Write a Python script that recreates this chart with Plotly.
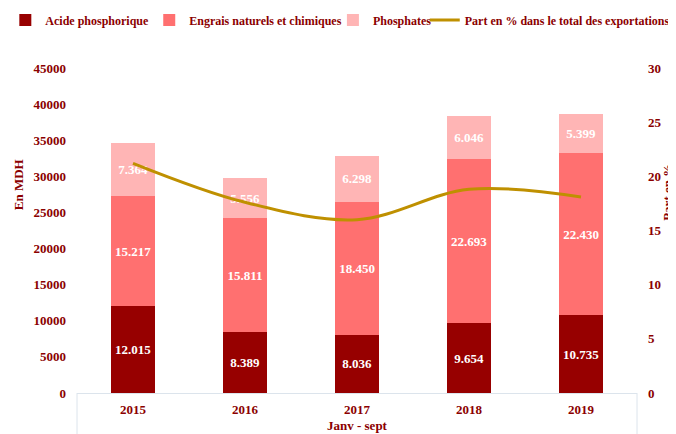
import plotly.graph_objects as go

years = ["2015", "2016", "2017", "2018", "2019"]
acide = [12015, 8389, 8036, 9654, 10735]
engrais = [15217, 15811, 18450, 22693, 22430]
phosphates = [7364, 5556, 6298, 6046, 5399]
part_pct = [21.2, 17.6, 16.0, 18.8, 18.1]

def fmt(vals):
    return [f"{v:,}".replace(",", ".") for v in vals]

FONT = "Liberation Serif"
RED = "#8B0000"
TICKF = dict(size=13, color=RED, family=FONT, weight="bold")
LEGF = dict(size=12, color=RED, family=FONT, weight="bold")

fig = go.Figure()
for i, (name, vals, col) in enumerate([("Acide phosphorique", acide, "#970000"),
                                       ("Engrais naturels et chimiques", engrais, "#FF7070"),
                                       ("Phosphates", phosphates, "#FFB5B5")]):
    fig.add_trace(go.Bar(x=years, y=vals, name=name, marker=dict(color=col, line=dict(width=0)),
                         text=fmt(vals), textposition="inside", insidetextanchor="middle",
                         textfont=dict(color="white", size=13, family=FONT, weight="bold"),
                         hoverinfo="skip", showlegend=True,
                         legend="legend" if i == 0 else f"legend{i+1}"))
fig.add_trace(go.Scatter(x=years, y=part_pct, name="Part en % dans le total des exportations",
                         mode="lines", line=dict(color="#BF9000", width=3, shape="spline"),
                         yaxis="y2", legend="legend4", showlegend=True))

leg_y = 1.148
def leg(x):
    return dict(orientation="h", x=x, xanchor="left", y=leg_y, yanchor="middle",
                font=LEGF, itemwidth=30, bgcolor="rgba(0,0,0,0)")

fig.update_layout(
    width=676, height=434,
    showlegend=True,
    margin=dict(l=69, r=47, t=60, b=49, autoexpand=False),
    barmode="stack", bargap=0.6,
    plot_bgcolor="white", paper_bgcolor="white",
    font=dict(family=FONT, color=RED, size=13),
    legend=leg(-0.128),
    legend2=leg(0.129),
    legend3=leg(0.457),
    legend4=leg(0.621),
    xaxis=dict(showgrid=False, showline=True, linecolor="#DCE4EC", linewidth=1,
               tickfont=TICKF, ticklabelstandoff=4, ticks="", automargin=False),
    yaxis=dict(range=[0, 45000], dtick=5000, tickformat="d", showgrid=False, zeroline=False,
               tickfont=TICKF, automargin=False, ticklabelstandoff=10),
    yaxis2=dict(range=[0, 30], dtick=5, tickformat="d", overlaying="y", side="right",
                showgrid=False, zeroline=False, tickfont=TICKF, automargin=False,
                ticklabelstandoff=10),
    annotations=[
        dict(text="<b>En MDH</b>", x=-0.105, y=0.64, xref="paper", yref="paper",
             xanchor="center", yanchor="middle",
             textangle=-90, showarrow=False, font=dict(size=13, color=RED)),
        dict(text="<b>Part en %</b>", x=1.053, y=0.618, xref="paper", yref="paper",
             xanchor="center", yanchor="middle",
             textangle=-90, showarrow=False, font=dict(size=13, color=RED)),
        dict(text="<b>Janv - sept</b>", x=0.5, y=-0.10, xref="paper", yref="paper",
             yanchor="middle", showarrow=False, font=dict(size=13, color=RED)),
    ],
    shapes=[
        dict(type="line", xref="paper", yref="paper", x0=0, x1=0, y0=0, y1=-0.2,
             line=dict(color="#DCE4EC", width=1)),
        dict(type="line", xref="paper", yref="paper", x0=1, x1=1, y0=0, y1=-0.2,
             line=dict(color="#DCE4EC", width=1)),
    ],
)

fig.write_html("out.html")
